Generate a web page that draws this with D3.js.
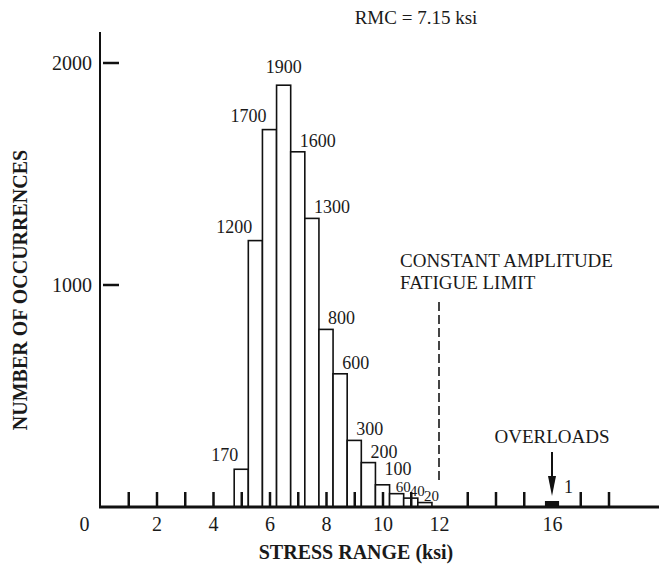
<!DOCTYPE html>
<html>
<head>
<meta charset="utf-8">
<script src="https://cdn.jsdelivr.net/npm/d3@7"></script>
<style>
  body { margin: 0; background: #fff; }
  svg text { font-family: "Liberation Serif", "DejaVu Serif", serif; fill: #1a1a1a; }
</style>
</head>
<body>
<svg id="chart" width="659" height="565"></svg>
<script>
// stress range bins (ksi, bin centre) and counts
var binCentres = [5, 5.5, 6, 6.5, 7, 7.5, 8, 8.5, 9, 9.5, 10, 10.5, 11, 11.5];
var counts = [170, 1200, 1700, 1900, 1600, 1300, 800, 600, 300, 200, 100, 60, 40, 20];

var overloadBin = 16;
var overloadCount = 1;

var xTickMarks = [1, 2, 3, 4, 5, 6, 7, 8, 9, 10, 11, 13, 14, 15, 17, 18];
var xTickLabels = [0, 2, 4, 6, 8, 10, 12, 16];
var yTickLabels = [1000, 2000];

var fatigueLimit = 12;
var rmc = 7.15;

var svg = d3.select('#chart');

var x = d3.scaleLinear().domain([0, 18]).range([100, 608.5]);
var y = d3.scaleLinear().domain([0, 2000]).range([507, 63]);
var halfBin = 0.25;
var peak = d3.max(counts);

// title
svg.append('text')
  .attr('x', 416).attr('y', 24)
  .attr('text-anchor', 'middle')
  .style('font-size', '19px')
  .text('RMC = ' + rmc + ' ksi');

// bars
svg.selectAll('rect.bar')
  .data(binCentres)
  .enter().append('rect')
  .attr('class', 'bar')
  .attr('x', function(d) { return x(d - halfBin); })
  .attr('width', function(d) { return x(d + halfBin) - x(d - halfBin); })
  .attr('y', function(d, i) { return y(counts[i]); })
  .attr('height', function(d, i) { return y(0) - y(counts[i]); })
  .style('fill', '#fff')
  .style('stroke', '#111')
  .style('stroke-width', '1.6px');

// bar labels: left of the peak sit to the left, the peak centred, the rest to the right
var peakIdx = counts.indexOf(peak);
svg.selectAll('text.count')
  .data(binCentres)
  .enter().append('text')
  .attr('class', 'count')
  .style('font-size', function(d, i) { return counts[i] < 100 ? '15px' : '18px'; })
  .attr('text-anchor', function(d, i) {
    if (i < peakIdx) return 'end';
    if (i === peakIdx) return 'middle';
    return 'start';
  })
  .attr('x', function(d, i) {
    if (i < peakIdx) return x(d - halfBin) + 4;
    if (i === peakIdx) return x(d);
    if (counts[i] < 100) return x(d + halfBin) - 8;
    return x(d + halfBin) - 5;
  })
  .attr('y', function(d, i) {
    if (i === peakIdx) return y(counts[i]) - 12;
    if (i < peakIdx) return y(counts[i]) - 8;
    if (counts[i] < 100) return y(counts[i]) - 2;
    if (counts[i] === 100) return y(counts[i]) - 10;
    return y(counts[i]) - 5;
  })
  .text(function(d, i) { return counts[i]; });

// overload bar (too small to show at scale, drawn as a solid block)
svg.append('rect')
  .attr('x', x(overloadBin - halfBin))
  .attr('width', x(overloadBin + halfBin) - x(overloadBin - halfBin))
  .attr('y', Math.min(y(overloadCount), y(0) - 6))
  .attr('height', Math.max(y(0) - y(overloadCount), 6))
  .style('fill', '#111');

svg.append('text')
  .attr('x', x(overloadBin) + 12).attr('y', 493)
  .style('font-size', '18px')
  .text(overloadCount);

// arrow to overloads
var ax = x(overloadBin);
svg.append('line')
  .attr('x1', ax).attr('x2', ax)
  .attr('y1', 452).attr('y2', 478)
  .style('stroke', '#111')
  .style('stroke-width', '2px');
svg.append('path')
  .attr('d', 'M' + (ax - 4) + ',476L' + (ax + 4) + ',476L' + ax + ',496Z')
  .style('fill', '#111');

svg.append('text')
  .attr('x', ax).attr('y', 443)
  .attr('text-anchor', 'middle')
  .style('font-size', '19px')
  .text('OVERLOADS');

// constant amplitude fatigue limit
svg.append('line')
  .attr('x1', x(fatigueLimit)).attr('x2', x(fatigueLimit))
  .attr('y1', 302).attr('y2', 482)
  .style('stroke', '#444')
  .style('stroke-width', '2px')
  .style('stroke-dasharray', '9,4');

svg.append('text')
  .attr('x', 400).attr('y', 267)
  .style('font-size', '19px')
  .text('CONSTANT AMPLITUDE');
svg.append('text')
  .attr('x', 400).attr('y', 289)
  .style('font-size', '19px')
  .text('FATIGUE LIMIT');

// x axis: tick marks point up from the baseline
var xAxis = svg.append('g')
  .attr('transform', 'translate(0,' + y(0) + ')')
  .call(d3.axisTop(x).tickValues(xTickMarks).tickSize(15).tickFormat(''));
xAxis.select('.domain').remove();
xAxis.selectAll('line').style('stroke', '#111').style('stroke-width', '2.5px');

svg.append('line')
  .attr('x1', x(0) - 1).attr('x2', 659)
  .attr('y1', y(0)).attr('y2', y(0))
  .style('stroke', '#111')
  .style('stroke-width', '3px');

var xLabels = svg.append('g')
  .attr('transform', 'translate(0,' + y(0) + ')')
  .call(d3.axisBottom(x).tickValues(xTickLabels).tickSize(0).tickPadding(10));
xLabels.select('.domain').remove();
xLabels.selectAll('text')
  .style('font-size', '20px')
  .style('font-family', '"Liberation Serif", serif')
  .style('fill', '#1a1a1a')
  .attr('dx', function(d) { return d === 0 ? -16 : 0; });

// y axis
svg.append('line')
  .attr('x1', x(0)).attr('x2', x(0))
  .attr('y1', y(0)).attr('y2', 32)
  .style('stroke', '#111')
  .style('stroke-width', '2px');

svg.selectAll('line.ytick')
  .data(yTickLabels)
  .enter().append('line')
  .attr('class', 'ytick')
  .attr('x1', x(0) + 3).attr('x2', x(0) + 19)
  .attr('y1', function(d) { return y(d); })
  .attr('y2', function(d) { return y(d); })
  .style('stroke', '#111')
  .style('stroke-width', '2.5px');

svg.selectAll('text.ylab')
  .data(yTickLabels)
  .enter().append('text')
  .attr('class', 'ylab')
  .attr('x', x(0) - 8)
  .attr('y', function(d) { return y(d) + 7; })
  .attr('text-anchor', 'end')
  .style('font-size', '20px')
  .text(function(d) { return d; });

// axis titles
svg.append('text')
  .attr('x', 356).attr('y', 559)
  .attr('text-anchor', 'middle')
  .style('font-size', '20px')
  .style('font-weight', 'bold')
  .text('STRESS RANGE (ksi)');

svg.append('text')
  .attr('transform', 'translate(27,290) rotate(-90)')
  .attr('text-anchor', 'middle')
  .style('font-size', '20px')
  .style('font-weight', 'bold')
  .text('NUMBER OF OCCURRENCES');
</script>
</body>
</html>
